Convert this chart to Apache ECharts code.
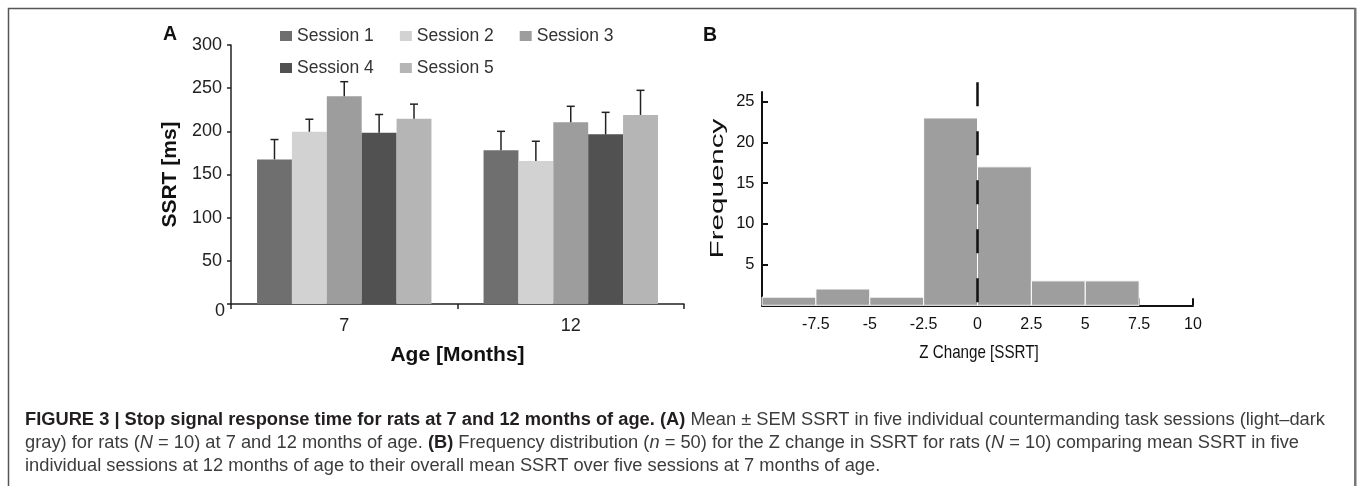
<!DOCTYPE html>
<html><head><meta charset="utf-8">
<script src="https://cdn.jsdelivr.net/npm/echarts@6/dist/echarts.min.js"></script>
<style>html,body{margin:0;padding:0;background:#fff}#c{width:1357px;height:486px}</style>
</head><body><div id="c"></div>
<script>
// ---- Data ----
const ages = ['7', '12'];
const sessionNames = ['Session 1', 'Session 2', 'Session 3', 'Session 4', 'Session 5'];
const session1Mean = [167.5, 178];
const session1Sem = [23, 22];
const session2Mean = [199.5, 165.5];
const session2Sem = [14.5, 23];
const session3Mean = [240.5, 210.5];
const session3Sem = [17, 18.5];
const session4Mean = [198.5, 196.5];
const session4Sem = [21, 25.5];
const session5Mean = [214.5, 219];
const session5Sem = [17, 28.5];
const ssrtTicks = [0, 50, 100, 150, 200, 250, 300];

const binLower = [-10, -7.5, -5, -2.5, 0, 2.5, 5];
const binUpper = [-7.5, -5, -2.5, 0, 2.5, 5, 7.5];
const binCount = [1, 2, 1, 23, 17, 3, 3];
const zTicks = [-7.5, -5, -2.5, 0, 2.5, 5, 7.5, 10];
const freqTicks = [5, 10, 15, 20, 25];
const refLineX = [0];
const refLineTop = [27.4];

// ---- Styles ----
const FONT = "'Liberation Sans', Arial, Helvetica, sans-serif";
const sessionColors = ['#6f6f6f', '#d2d2d2', '#9d9d9d', '#515151', '#b5b5b5'];
const means = [session1Mean, session2Mean, session3Mean, session4Mean, session5Mean];
const sems = [session1Sem, session2Sem, session3Sem, session4Sem, session5Sem];
const CAT_GAP = 0.23;

const chart = echarts.init(document.getElementById('c'), null, {renderer: 'canvas'});

function errRenderer(i) {
  return function (params, api) {
    const cat = api.value(0);
    const base = api.coord([cat, api.value(1)]);
    const top = api.coord([cat, api.value(2)]);
    const band = api.size([1, 0])[0];
    const barW = band * (1 - CAT_GAP) / sessionNames.length;
    const x = base[0] + (i - (sessionNames.length - 1) / 2) * barW;
    const st = {stroke: '#222', lineWidth: 1.5};
    return {type: 'group', children: [
      {type: 'line', shape: {x1: x, y1: base[1], x2: x, y2: top[1]}, style: st},
      {type: 'line', shape: {x1: x - 4, y1: top[1], x2: x + 4, y2: top[1]}, style: st}
    ]};
  };
}

const series = [];
sessionNames.forEach((n, i) => {
  series.push({
    type: 'bar', name: n, xAxisIndex: 0, yAxisIndex: 0,
    data: means[i], barGap: '0%', barCategoryGap: (CAT_GAP * 100) + '%',
    itemStyle: {color: sessionColors[i]}
  });
});
sessionNames.forEach((n, i) => {
  series.push({
    type: 'custom', name: 'err' + i, xAxisIndex: 0, yAxisIndex: 0, z: 5,
    data: ages.map((a, j) => [j, means[i][j], means[i][j] + sems[i][j]]),
    encode: {x: 0, y: [1, 2]},
    renderItem: errRenderer(i)
  });
});
series.push({
  type: 'custom', name: 'hist', xAxisIndex: 1, yAxisIndex: 1,
  data: binLower.map((l, i) => [l, binUpper[i], binCount[i]]),
  encode: {x: [0, 1], y: 2},
  renderItem: function (params, api) {
    const p1 = api.coord([api.value(0), api.value(2)]);
    const p2 = api.coord([api.value(1), 0]);
    return {type: 'rect', shape: {x: p1[0], y: p1[1], width: p2[0] - p1[0], height: p2[1] - p1[1]},
      style: {fill: '#9e9e9e', stroke: '#ffffff', lineWidth: 1}};
  }
});
series.push({
  type: 'custom', name: 'ref', xAxisIndex: 1, yAxisIndex: 1, clip: false, z: 10,
  data: refLineX.map((x, i) => [x, refLineTop[i]]),
  encode: {x: 0, y: 1},
  renderItem: function (params, api) {
    const a = api.coord([api.value(0), api.value(1)]);
    const b = api.coord([api.value(0), 0]);
    return {type: 'line', shape: {x1: a[0], y1: a[1], x2: b[0], y2: b[1]},
      style: {stroke: '#111', lineWidth: 2.5, lineDash: [24, 25]}};
  }
});

const legendCommon = {
  icon: 'rect', itemWidth: 12, itemHeight: 10, itemGap: 26, padding: 0,
  textStyle: {fontSize: 17.5, color: '#333', fontFamily: FONT},
  selectedMode: false
};

const option = {
  animation: false,
  backgroundColor: '#fff',
  grid: [
    {left: 231, top: 45, width: 453, height: 259},
    {left: 762, top: 91.9, width: 431, height: 213.4}
  ],
  legend: [
    Object.assign({left: 280, top: 27, data: sessionNames.slice(0, 3)}, legendCommon),
    Object.assign({left: 280, top: 59, data: sessionNames.slice(3)}, legendCommon)
  ],
  xAxis: [
    {
      type: 'category', gridIndex: 0, data: ages,
      axisLine: {lineStyle: {color: '#222', width: 1.5}},
      axisTick: {show: true, length: 5, lineStyle: {color: '#222', width: 1.5}},
      axisLabel: {margin: 13, fontSize: 18, color: '#222', fontFamily: FONT},
      name: 'Age [Months]', nameLocation: 'middle', nameGap: 41,
      nameTextStyle: {fontSize: 21, fontWeight: 'bold', color: '#111', fontFamily: FONT}
    },
    {
      type: 'value', gridIndex: 1, min: -10, max: 10, interval: 2.5,
      axisLine: {onZero: false, lineStyle: {color: '#111', width: 2}},
      axisTick: {show: true, inside: true, length: 7, lineStyle: {color: '#111', width: 2}, customValues: zTicks},
      axisLabel: {customValues: zTicks, margin: 11, fontSize: 16, color: '#111', fontFamily: FONT},
      splitLine: {show: false}
    }
  ],
  yAxis: [
    {
      type: 'value', gridIndex: 0, min: ssrtTicks[0], max: ssrtTicks[ssrtTicks.length - 1], interval: 50,
      axisLine: {show: true, onZero: false, lineStyle: {color: '#222', width: 1.5}},
      axisTick: {show: true, length: 4, lineStyle: {color: '#222', width: 1.5}},
      splitLine: {show: false},
      axisLabel: {
        margin: 6,
        formatter: v => v === 0 ? '{z|0}' : '{n|' + v + '}',
        rich: {
          n: {fontSize: 18, color: '#222', fontFamily: FONT, padding: [0, 3, 0, 0]},
          z: {fontSize: 18, color: '#222', fontFamily: FONT, padding: [14, 0, 0, 0]}
        }
      },
      name: 'SSRT [ms]', nameLocation: 'middle', nameGap: 50,
      nameTextStyle: {fontSize: 21, fontWeight: 'bold', color: '#111', fontFamily: FONT}
    },
    {
      type: 'value', gridIndex: 1, min: 0, max: 26.2, interval: 5,
      axisLine: {show: true, onZero: false, lineStyle: {color: '#111', width: 2}},
      axisTick: {show: true, inside: true, length: 6, lineStyle: {color: '#111', width: 2}, customValues: freqTicks},
      axisLabel: {customValues: freqTicks, margin: 7.5, fontSize: 16.5, color: '#111', fontFamily: FONT},
      splitLine: {show: false}
    }
  ],
  graphic: [
    {type: 'rect', silent: true, shape: {x: 8.5, y: 8.5, width: 1346.5, height: 600},
      style: {fill: 'none', stroke: '#555', lineWidth: 1.5}},
    {type: 'line', silent: true, shape: {x1: 1355.5, y1: 8, x2: 1355.5, y2: 486},
      style: {stroke: '#777', lineWidth: 2}},
    {type: 'text', x: 170, y: 35, silent: true,
      style: {text: 'A', fontSize: 19.5, fontWeight: 'bold', fontFamily: FONT, fill: '#111',
        textAlign: 'center', textVerticalAlign: 'middle', verticalAlign: 'middle'}},
    {type: 'text', x: 710, y: 35.5, silent: true,
      style: {text: 'B', fontSize: 19.5, fontWeight: 'bold', fontFamily: FONT, fill: '#111',
        textAlign: 'center', textVerticalAlign: 'middle', verticalAlign: 'middle'}},
    {type: 'text', x: 718, y: 188.5, rotation: Math.PI / 2, scaleX: 1.6, silent: true,
      style: {text: 'Frequency', fontSize: 18.5, fontFamily: FONT, fill: '#111',
        textAlign: 'center', textVerticalAlign: 'middle', verticalAlign: 'middle'}},
    {type: 'text', x: 979, y: 353, scaleX: 0.82, silent: true,
      style: {text: 'Z Change [SSRT]', fontSize: 18.5, fontFamily: FONT, fill: '#111',
        textAlign: 'center', textVerticalAlign: 'middle', verticalAlign: 'middle'}},
    {type: 'text', x: 25, y: 420, silent: true,
      style: {
        text: '{b|FIGURE 3 | Stop signal response time for rats at 7 and 12 months of age. (A)}{r| Mean \u00b1 SEM SSRT in five individual countermanding task sessions (light\u2013dark}\n' +
              '{r|gray) for rats (}{i|N}{r| = 10) at 7 and 12 months of age. }{b|(B)}{r| Frequency distribution (}{i|n}{r| = 50) for the Z change in SSRT for rats (}{i|N}{r| = 10) comparing mean SSRT in five}\n' +
              '{r|individual sessions at 12 months of age to their overall mean SSRT over five sessions at 7 months of age.}',
        textAlign: 'left', textVerticalAlign: 'top', verticalAlign: 'top',
        y: -11.5,
        rich: {
          b: {fontSize: 18.3, fontWeight: 'bold', fontFamily: FONT, fill: '#231f20', lineHeight: 23},
          r: {fontSize: 18.3, fontFamily: FONT, fill: '#3c3c3c', lineHeight: 23},
          i: {fontSize: 18.3, fontStyle: 'italic', fontFamily: FONT, fill: '#3c3c3c', lineHeight: 23}
        }
      }}
  ],
  series: series
};
chart.setOption(option);
</script>
</body></html>
